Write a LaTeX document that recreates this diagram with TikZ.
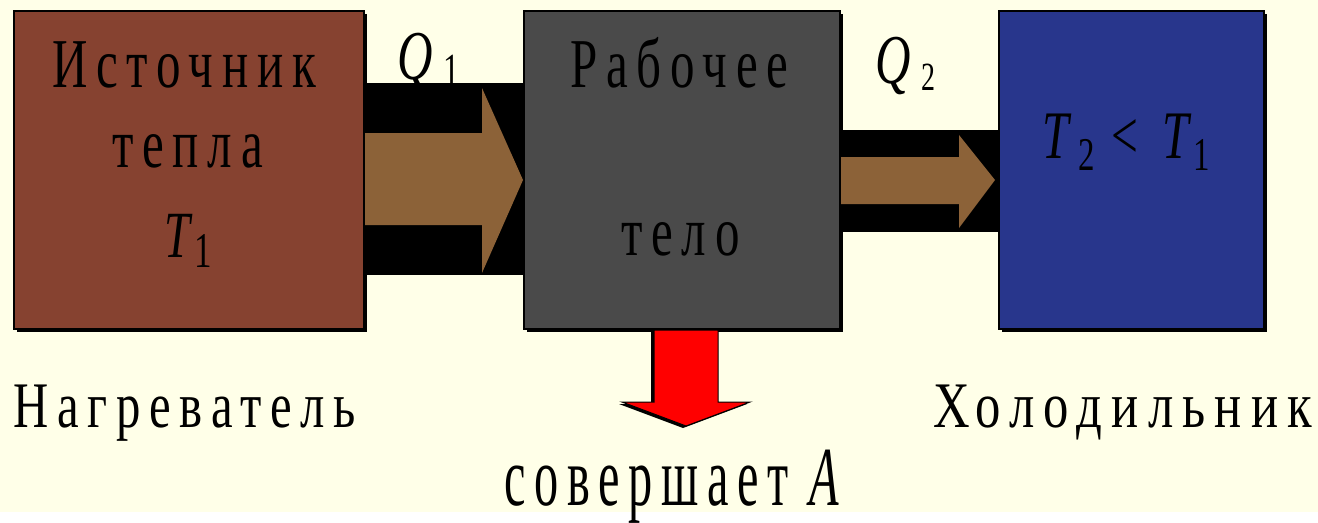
\documentclass[tikz,border=0pt]{standalone}
\usepackage{fontspec}
\usetikzlibrary{shadows}
\newfontfamily\slidefont[LetterSpace=18]{Liberation Serif}
\definecolor{slidebg}{RGB}{255,255,232}
\definecolor{heatbrown}{RGB}{134,66,48}
\definecolor{bodygray}{RGB}{74,74,74}
\definecolor{coldblue}{RGB}{40,54,140}
\definecolor{flowbrown}{RGB}{140,98,56}
% schmale Schrift
\newcommand{\narrow}[2][0.7]{\scalebox{#1}[1]{#2}}
% Index: [Abstand], Buchstabe, Ziffer, Absenkung, Groesse
\newcommand{\subidx}[5][6pt]{{\itshape #2}\hspace{#1}\raisebox{#4}{\fontsize{#5}{#5}\selectfont #3}}
\begin{document}
\begin{tikzpicture}[x=1pt, y=-1pt,
	box/.style={draw=black, line width=2pt, inner sep=0pt, anchor=north west,
		drop shadow={shadow xshift=3pt, shadow yshift=-3pt, fill=black, opacity=1}},
	lbl/.style={inner sep=0pt, anchor=base west, font=\slidefont\fontsize{70}{70}\selectfont},
	sublbl/.style={inner sep=0pt, anchor=base west, font=\slidefont\fontsize{65}{65}\selectfont}]
	\fill[slidebg] (0,0) rectangle (1318,512); % Hintergrund
	
	% Kaesten
	\node[box, fill=heatbrown, minimum width=350pt, minimum height=318pt] (heater) at (13,10) {};
	\node[box, fill=bodygray, minimum width=316pt, minimum height=318pt] (body) at (523,10) {};
	\node[box, fill=coldblue, minimum width=265pt, minimum height=318pt] (cooler) at (998,10) {};
	
	% Beschriftung oben
	\node[lbl] (qone) at (397,79) {\narrow{\subidx[16pt]{Q}{1}{-6pt}{46}}};
	\node[lbl] (qtwo) at (875,83) {\narrow{\subidx[16pt]{Q}{2}{-7pt}{40}}};
	
	% Waermefluss Q1
	\fill[black] (heater.east |- 0,83) rectangle (body.west |- 0,275);
	\fill[flowbrown] (heater.east |- 0,133) -- (482,133) -- (482,88) -- (body.west |- 0,180)
		-- (482,273) -- (482,225) -- (heater.east |- 0,225) -- cycle;
	
	% Waermefluss Q2
	\fill[black] (body.east |- 0,130) rectangle (cooler.west |- 0,232);
	\fill[flowbrown] (body.east |- 0,157) -- (959,157) -- (959,135) -- (995,180)
		-- (959,228) -- (959,204) -- (body.east |- 0,204) -- cycle;
	
	% Arbeit A
	\fill[black] (651,331) -- (651,404) -- (619,404) -- (683,428) -- (747,404) -- (715,404) -- (715,331) -- cycle;
	\filldraw[draw=black, line width=1pt, fill=red] (654,330) -- (654,402) -- (622,402) -- (686,426)
		-- (750,402) -- (718,402) -- (718,330) -- cycle;
	
	% Texte in den Kaesten
	\node[lbl] (srcA) at (52,87) {\narrow{Источник}};
	\node[lbl] (srcB) at (112,167) {\narrow{тепла}};
	\node[lbl, font=\slidefont\fontsize{66}{66}\selectfont] (tone) at (164,257) {\narrow{\subidx{T}{1}{-10pt}{50}}};
	\node[lbl] (wrkA) at (570,87) {\narrow{Рабочее}};
	\node[lbl] (wrkB) at (621,255) {\narrow{тело}};
	\node[lbl, font=\slidefont\fontsize{68}{68}\selectfont] (tcmp) at (1042,158)
		{\narrow{\subidx[14pt]{T}{2}{-12pt}{47}\hspace{24pt}<\hspace{34pt}\subidx{T}{1}{-12pt}{47}}};
	
	% Texte unten
	\node[sublbl] (hot) at (13,427) {\narrow[0.75]{Нагреватель}};
	\node[sublbl] (cold) at (933,427) {\narrow[0.78]{Холодильник}};
	\node[lbl, font=\slidefont\fontsize{84}{84}\selectfont] (work) at (504,505) {\narrow[0.575]{совершает {\itshape A}}};
\end{tikzpicture}
\end{document}
